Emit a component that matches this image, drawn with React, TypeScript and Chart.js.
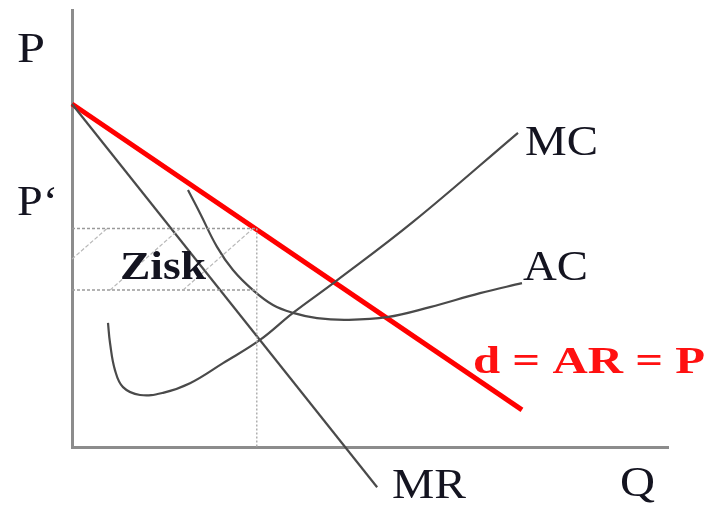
import React, { useEffect, useRef } from "react";
import { Chart, registerables } from "chart.js";

Chart.register(...registerables);

// Axis ranges (quantity Q, price P)
const Q_RANGE = [0, 10];
const P_RANGE = [0, 10];

// Demand curve d = AR = P
const demandQ = [0, 7.55];
const demandP = [7.85, 0.85];

// Marginal revenue MR
const mrQ = [0, 5.12];
const mrP = [7.85, -0.92];

// Marginal cost MC
const mcQ = [0.604, 0.638, 0.721, 0.856, 1.141, 1.527, 1.98, 2.534, 3.154, 3.708, 4.413, 5.721, 7.483];
const mcP = [2.84, 2.38, 1.76, 1.37, 1.19, 1.24, 1.46, 1.92, 2.45, 3.07, 3.78, 5.15, 7.19];

// Average cost AC
const acQ = [1.946, 2.148, 2.433, 2.701, 3.037, 3.372, 3.708, 4.111, 4.614, 5.285, 6.007, 6.846, 7.55];
const acP = [5.88, 5.35, 4.58, 4.05, 3.59, 3.25, 3.07, 2.95, 2.91, 2.97, 3.2, 3.52, 3.75];

// Equilibrium values
const qStar = 3.1;
const pStar = 5.0;
const acStar = 3.59;

// Profit-area hatch lines (start Q, start P, end Q, end P)
const hatchStartQ = [0, 0.638, 1.862];
const hatchStartP = [4.3, 3.59, 3.59];
const hatchEndQ = [0.587, 1.812, 3.037];
const hatchEndP = [5.0, 5.0, 5.0];

// Text labels
const labelTexts = ["P", "P‘", "MC", "AC", "d = AR = P", "MR", "Q", "Zisk"];
const labelQ = [-0.923, -0.923, 7.6, 7.567, 6.728, 5.369, 9.195, 0.805];
const labelP = [8.81, 5.31, 6.68, 3.82, 1.69, -1.167, -1.12, 3.84];

const SERIF = "'Liberation Serif', 'Times New Roman', Times, serif";

const labelStyle = [
  { font: `42px ${SERIF}`, color: "#141420", width: 28 },
  { font: `42px ${SERIF}`, color: "#141420", width: 41 },
  { font: `42px ${SERIF}`, color: "#141420", width: 73 },
  { font: `42px ${SERIF}`, color: "#141420", width: 65 },
  { font: `bold 37px ${SERIF}`, color: "#ff1010", width: 232 },
  { font: `42px ${SERIF}`, color: "#141420", width: 74 },
  { font: `42px ${SERIF}`, color: "#141420", width: 35 },
  { font: `bold 40px ${SERIF}`, color: "#141420", width: 86 },
];

const zip = (xs: number[], ys: number[]) => xs.map((x, i) => ({ x, y: ys[i] }));

const labelPlugin = {
  id: "labels",
  afterDatasetsDraw(chart: any) {
    const ctx = chart.ctx;
    const xs = chart.scales.x;
    const ys = chart.scales.y;
    labelTexts.forEach((t, i) => {
      const st = labelStyle[i];
      const px = xs.getPixelForValue(labelQ[i]);
      const py = ys.getPixelForValue(labelP[i]);
      ctx.save();
      ctx.font = st.font;
      ctx.fillStyle = st.color;
      ctx.textAlign = "left";
      ctx.textBaseline = "alphabetic";
      const w = ctx.measureText(t).width;
      ctx.translate(px, py);
      ctx.scale(st.width / w, 1);
      ctx.fillText(t, 0, 0);
      ctx.restore();
    });
  },
};

export default function App() {
  const ref = useRef<HTMLCanvasElement | null>(null);

  useEffect(() => {
    document.body.style.margin = "0";
    if (!ref.current) return;

    const curve = { showLine: true, pointRadius: 0, clip: false as any };

    const hatch = hatchStartQ.map((q, i) => ({
      ...curve,
      data: [
        { x: q, y: hatchStartP[i] },
        { x: hatchEndQ[i], y: hatchEndP[i] },
      ],
      borderColor: "#b8b8b8",
      borderWidth: 1.2,
      borderDash: [4, 2],
    }));

    const chart = new Chart(ref.current, {
      type: "scatter",
      data: {
        datasets: [
          ...hatch,
          {
            ...curve,
            data: [
              { x: 0, y: pStar },
              { x: qStar, y: pStar },
            ],
            borderColor: "#9a9a9a",
            borderWidth: 1.5,
            borderDash: [3, 2],
          },
          {
            ...curve,
            data: [
              { x: 0, y: acStar },
              { x: qStar, y: acStar },
            ],
            borderColor: "#9a9a9a",
            borderWidth: 1.5,
            borderDash: [3, 2],
          },
          {
            ...curve,
            data: [
              { x: qStar, y: pStar },
              { x: qStar, y: 0 },
            ],
            borderColor: "#b0b0b0",
            borderWidth: 1.5,
            borderDash: [2, 2],
          },
          {
            ...curve,
            data: zip(mcQ, mcP),
            borderColor: "#4a4a4a",
            borderWidth: 2.2,
            tension: 0.4,
          },
          {
            ...curve,
            data: zip(acQ, acP),
            borderColor: "#4a4a4a",
            borderWidth: 2.2,
            tension: 0.4,
          },
          {
            ...curve,
            data: zip(mrQ, mrP),
            borderColor: "#4a4a4a",
            borderWidth: 2.2,
          },
          {
            ...curve,
            data: zip(demandQ, demandP),
            borderColor: "#ff0000",
            borderWidth: 5,
          },
        ] as any,
      },
      options: {
        animation: false,
        responsive: true,
        maintainAspectRatio: false,
        layout: { padding: { left: 72, top: 10, right: 41, bottom: 58 } },
        plugins: { legend: { display: false }, tooltip: { enabled: false } },
        events: [],
        scales: {
          x: {
            type: "linear",
            min: Q_RANGE[0],
            max: Q_RANGE[1],
            grid: { display: false, drawTicks: false },
            ticks: { display: false },
            border: { display: true, color: "#8c8c8c", width: 3 },
          },
          y: {
            type: "linear",
            min: P_RANGE[0],
            max: P_RANGE[1],
            grid: { display: false, drawTicks: false },
            ticks: { display: false },
            border: { display: true, color: "#8c8c8c", width: 3 },
          },
        },
      },
      plugins: [labelPlugin],
    });

    return () => chart.destroy();
  }, []);

  return (
    <div style={{ width: 709, height: 505, position: "relative" }}>
      <canvas ref={ref} />
    </div>
  );
}
